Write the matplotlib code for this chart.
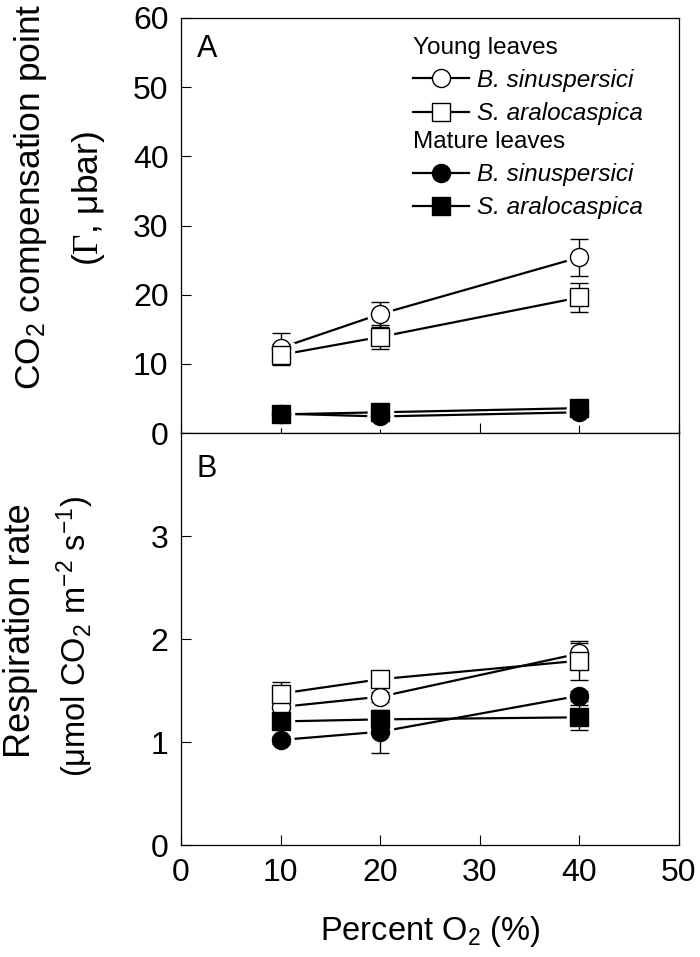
import matplotlib
matplotlib.use("Agg")
import matplotlib.pyplot as plt
from matplotlib.lines import Line2D

plt.rcParams['font.family'] = ['Liberation Sans', 'DejaVu Sans']
plt.rcParams['mathtext.fontset'] = 'custom'
plt.rcParams['mathtext.rm'] = 'Liberation Sans'
plt.rcParams['mathtext.it'] = 'Liberation Sans:italic'
plt.rcParams['mathtext.tt'] = 'Liberation Serif'

o2 = [10, 20, 40]
names = ['B. sinuspersici', 'S. aralocaspica', 'B. sinuspersici', 'S. aralocaspica']
groups = ['Young leaves', 'Mature leaves']

# panel A: CO2 compensation point (ubar)
gamma_young_b = [12.3, 17.2, 25.4]
gamma_young_b_err = [2.2, 1.8, 2.7]
gamma_young_s = [11.3, 13.9, 19.6]
gamma_young_s_err = [1.5, 1.7, 2.1]
gamma_mature_b = [2.8, 2.4, 3.0]
gamma_mature_b_err = [0.3, 0.4, 0.4]
gamma_mature_s = [2.7, 3.0, 3.6]
gamma_mature_s_err = [0.3, 0.3, 0.3]

# panel B: respiration rate
resp_young_b = [1.34, 1.44, 1.86]
resp_young_b_err = [0.05, 0.05, 0.1]
resp_young_s = [1.47, 1.61, 1.79]
resp_young_s_err = [0.11, 0.04, 0.19]
resp_mature_b = [1.02, 1.10, 1.45]
resp_mature_b_err = [0.04, 0.21, 0.05]
resp_mature_s = [1.20, 1.22, 1.24]
resp_mature_s_err = [0.05, 0.05, 0.12]

styles = [('o', 'white'), ('s', 'white'), ('o', 'black'), ('s', 'black')]
ms = 13


def draw(ax, series):
    for (y, e), (mk, fc) in zip(series, styles):
        ax.plot(o2, y, color='black', lw=1.6, zorder=2)
        # white halo gives the small gap between line and marker
        ax.plot(o2, y, ls='none', marker=mk, ms=ms + 5, mfc='white', mec='white', zorder=3)
        ax.errorbar(o2, y, yerr=e, fmt='none', ecolor='black', elinewidth=1.0,
                    capsize=6.5, capthick=1.0, zorder=4)
        ax.plot(o2, y, ls='none', marker=mk, ms=ms, mfc=fc, mec='black', mew=1.0, zorder=5)


fig = plt.figure(figsize=(7, 9.57), dpi=100)
axA = fig.add_axes([0.2586, 0.5475, 0.7114, 0.4337])
axB = fig.add_axes([0.2586, 0.117, 0.7114, 0.4305])

draw(axA, [(gamma_young_b, gamma_young_b_err), (gamma_young_s, gamma_young_s_err),
           (gamma_mature_b, gamma_mature_b_err), (gamma_mature_s, gamma_mature_s_err)])
draw(axB, [(resp_young_b, resp_young_b_err), (resp_young_s, resp_young_s_err),
           (resp_mature_b, resp_mature_b_err), (resp_mature_s, resp_mature_s_err)])

for ax in (axA, axB):
    ax.set_xlim(0, 50)
    ax.set_xticks([0, 10, 20, 30, 40, 50])
    ax.tick_params(direction='in', length=7, width=0.8, labelsize=23, pad=9)
    for sp in ax.spines.values():
        sp.set_linewidth(0.9)

axA.set_ylim(0, 60)
axA.set_yticks([0, 10, 20, 30, 40, 50, 60])
axA.tick_params(axis='x', labelbottom=False)
axB.set_ylim(0, 4)
axB.set_yticks([0, 1, 2, 3])
axB.set_xlabel('Percent O$_2$ (%)', fontsize=23.5, labelpad=19)

axA.text(0.032, 0.925, 'A', transform=axA.transAxes, fontsize=22, va='center')
axB.text(0.032, 0.913, 'B', transform=axB.transAxes, fontsize=22, va='center')

fig.text(0.043, 0.794, 'CO$_2$ compensation point', rotation=90, fontsize=25.5, ha='center', va='center')
fig.text(0.126, 0.793, r'($\mathtt{\Gamma}$, μbar)', rotation=90, fontsize=25.5, ha='center', va='center')
fig.text(0.03, 0.341, 'Respiration rate', rotation=90, fontsize=26, ha='center', va='center')
fig.text(0.107, 0.335, '(μmol CO$_2$ m$^{-2}$ s$^{-1}$)', rotation=90, fontsize=23.5, ha='center', va='center')

handles = []
for mk, fc in styles:
    handles.append(Line2D([], [], color='black', lw=1.6, marker=mk, ms=ms, mfc=fc, mec='black', mew=1.0))

leg_kw = dict(frameon=False, fontsize=17.5, title_fontsize=17.5, handlelength=2.3,
              handletextpad=0.35, borderpad=0, labelspacing=0.42, alignment='left', borderaxespad=0)
leg1 = axA.legend(handles[:2], names[:2], title=groups[0], loc='upper left',
                  bbox_to_anchor=(0.466, 0.955), **leg_kw)
for t in leg1.get_texts():
    t.set_style('italic')
axA.add_artist(leg1)
leg2 = axA.legend(handles[2:], names[2:], title=groups[1], loc='upper left',
                  bbox_to_anchor=(0.466, 0.728), **leg_kw)
for t in leg2.get_texts():
    t.set_style('italic')

fig.savefig('out.png', dpi=100)
